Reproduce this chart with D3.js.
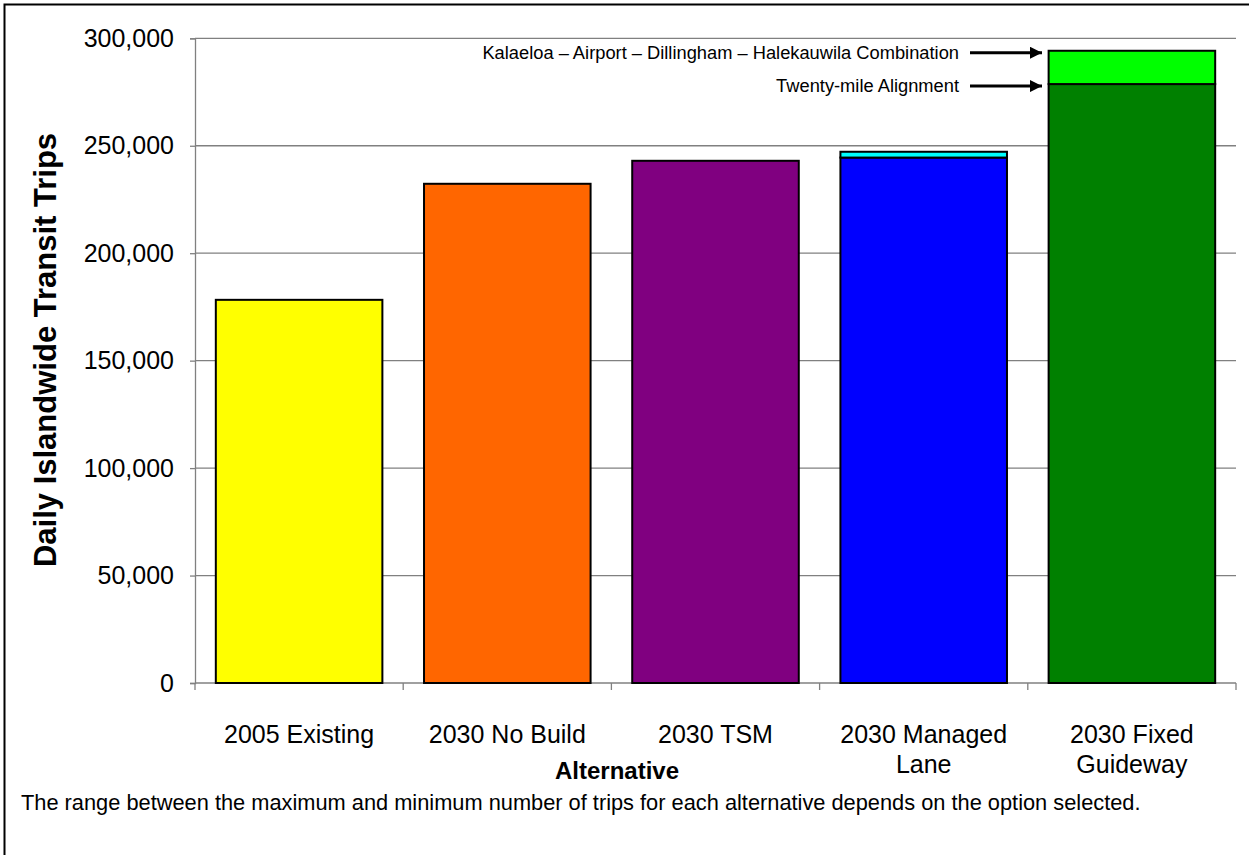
<!DOCTYPE html>
<html>
<head>
<meta charset="utf-8">
<script src="https://cdn.jsdelivr.net/npm/d3@7"></script>
<style>
  html, body { margin: 0; padding: 0; background: #fff; }
  svg { display: block; font-family: "Liberation Sans", Arial, sans-serif; }
</style>
</head>
<body>
<svg id="chart" width="1249" height="859"></svg>
<script>
// Alternatives along the x axis (multi-line labels)
const categories = ["2005 Existing", "2030 No Build", "2030 TSM", "2030 Managed Lane", "2030 Fixed Guideway"];
const categoryLines = [["2005 Existing"], ["2030 No Build"], ["2030 TSM"], ["2030 Managed", "Lane"], ["2030 Fixed", "Guideway"]];
// Minimum daily trips per alternative
const minTrips = [178300, 232300, 243000, 244500, 278700];
// Maximum daily trips per alternative (equal to minimum where there is no range)
const maxTrips = [178300, 232300, 243000, 247200, 294200];
const baseColors = ["#FFFF00", "#FF6600", "#800080", "#0000FF", "#008000"];
const rangeColors = ["#FFFF00", "#FF6600", "#800080", "#00FFFF", "#00FF00"];
const yTicks = [0, 50000, 100000, 150000, 200000, 250000, 300000];
const annotations = [
  { text: "Kalaeloa \u2013 Airport \u2013 Dillingham \u2013 Halekauwila Combination", value: 294200 },
  { text: "Twenty-mile Alignment", value: 278700 }
];

const svg = d3.select("#chart");
const plot = { left: 195, right: 1236, top: 38.3, bottom: 683 };

// Outer frame (top and left edges fall inside the page)
svg.append("path")
  .attr("d", "M4.5,855 L4.5,4.5 L1249,4.5")
  .attr("fill", "none").attr("stroke", "#000").attr("stroke-width", 2);

const x = d3.scaleBand().domain(categories)
  .range([plot.left, plot.right])
  .paddingInner(0.2).paddingOuter(0.1);
const y = d3.scaleLinear().domain([0, 300000]).range([plot.bottom, plot.top]);

// Horizontal gridlines
svg.append("g").selectAll("line")
  .data(yTicks.filter(d => d > 0))
  .join("line")
  .attr("x1", plot.left).attr("x2", plot.right)
  .attr("y1", d => y(d)).attr("y2", d => y(d))
  .attr("stroke", "#808080").attr("stroke-width", 1.3);

// Y axis
const yAxis = svg.append("g")
  .attr("transform", `translate(${plot.left},0)`)
  .call(d3.axisLeft(y).tickValues(yTicks).tickSize(5).tickPadding(16).tickFormat(d3.format(",")));
yAxis.select(".domain").attr("stroke", "#808080").attr("stroke-width", 1.3);
yAxis.selectAll(".tick line").attr("stroke", "#808080").attr("stroke-width", 1.3);
yAxis.selectAll(".tick text")
  .attr("font-size", 25).attr("fill", "#000")
  .attr("font-family", "'Liberation Sans', Arial, sans-serif");

// X axis: boundary ticks between categories
const boundaries = d3.range(categories.length + 1).map(i =>
  plot.left + i * (plot.right - plot.left) / categories.length);
svg.append("line")
  .attr("x1", plot.left).attr("x2", plot.right)
  .attr("y1", plot.bottom).attr("y2", plot.bottom)
  .attr("stroke", "#808080").attr("stroke-width", 1.3);
svg.append("g").selectAll("line")
  .data(boundaries).join("line")
  .attr("x1", d => d).attr("x2", d => d)
  .attr("y1", plot.bottom).attr("y2", plot.bottom + 7)
  .attr("stroke", "#808080").attr("stroke-width", 1.3);

// Base bars
svg.append("g").selectAll("rect")
  .data(categories).join("rect")
  .attr("x", d => x(d))
  .attr("width", x.bandwidth())
  .attr("y", (d, i) => y(minTrips[i]))
  .attr("height", (d, i) => y(0) - y(minTrips[i]))
  .attr("fill", (d, i) => baseColors[i])
  .attr("stroke", "#000").attr("stroke-width", 2);

// Range segments (max above min)
svg.append("g").selectAll("rect")
  .data(categories.map((c, i) => ({ c, i })).filter(d => maxTrips[d.i] > minTrips[d.i]))
  .join("rect")
  .attr("x", d => x(d.c))
  .attr("width", x.bandwidth())
  .attr("y", d => y(maxTrips[d.i]))
  .attr("height", d => y(minTrips[d.i]) - y(maxTrips[d.i]))
  .attr("fill", d => rangeColors[d.i])
  .attr("stroke", "#000").attr("stroke-width", 2);

// Category labels
const labels = svg.append("g").selectAll("text")
  .data(categories).join("text")
  .attr("text-anchor", "middle")
  .attr("font-size", 25)
  .attr("x", d => x(d) + x.bandwidth() / 2)
  .attr("y", 743);
labels.selectAll("tspan")
  .data((d, i) => categoryLines[i])
  .join("tspan")
  .attr("x", function () { return this.parentNode.getAttribute("x"); })
  .attr("dy", (d, j) => j === 0 ? 0 : 30)
  .text(d => d);

// Axis titles
svg.append("text")
  .attr("x", 617).attr("y", 779)
  .attr("text-anchor", "middle")
  .attr("font-size", 24).attr("font-weight", "bold")
  .text("Alternative");
svg.append("text")
  .attr("transform", "translate(56,350) rotate(-90)")
  .attr("text-anchor", "middle")
  .attr("font-size", 31).attr("font-weight", "bold")
  .text("Daily Islandwide Transit Trips");

// Arrow marker
svg.append("defs").append("marker")
  .attr("id", "arrow")
  .attr("viewBox", "0 0 10 10")
  .attr("refX", 10).attr("refY", 5)
  .attr("markerWidth", 4).attr("markerHeight", 4)
  .attr("markerUnits", "strokeWidth")
  .attr("orient", "auto")
  .append("path").attr("d", "M0,0 L10,5 L0,10 Z").attr("fill", "#000");

// Annotations pointing to the fixed guideway segments
const ann = svg.append("g");
annotations.forEach(a => {
  const yy = y(a.value) + 2;
  ann.append("line")
    .attr("x1", 970).attr("x2", 1042)
    .attr("y1", yy).attr("y2", yy)
    .attr("stroke", "#000").attr("stroke-width", 3)
    .attr("marker-end", "url(#arrow)");
  ann.append("text")
    .attr("x", 959).attr("y", yy + 6)
    .attr("text-anchor", "end")
    .attr("font-size", 18.3)
    .text(a.text);
});

// Footnote
svg.append("text")
  .attr("x", 21).attr("y", 810)
  .attr("font-size", 21.8)
  .text("The range between the maximum and minimum number of trips for each alternative depends on the option selected.");
</script>
</body>
</html>
